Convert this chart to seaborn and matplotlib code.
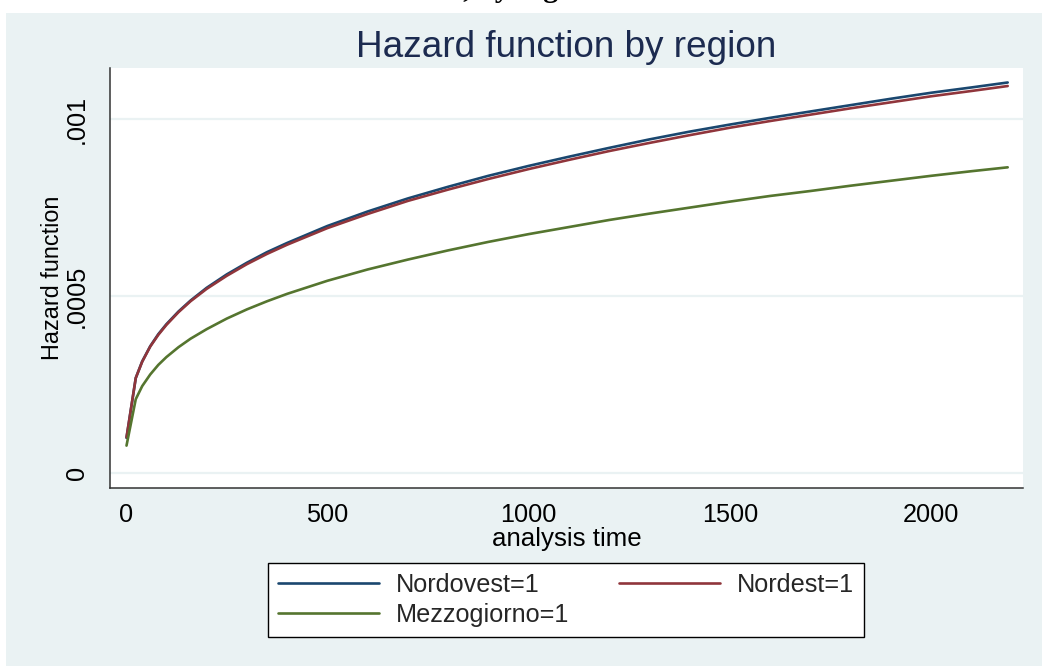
import numpy as np
import pandas as pd
import matplotlib
matplotlib.use("Agg")
import matplotlib.pyplot as plt
from matplotlib.lines import Line2D
from matplotlib.patches import Rectangle
import seaborn as sns

# ---- data ----
time = [1, 24, 40, 60, 80, 100, 130, 160, 200, 250, 300, 350, 400, 500, 600,
        700, 800, 900, 1000, 1100, 1200, 1300, 1400, 1500, 1600, 1700, 1800,
        1900, 2000, 2100, 2190]
nordovest = [0.0000985, 0.000268, 0.000315, 0.000358, 0.000392, 0.000420,
             0.000456, 0.000487, 0.000523, 0.000561, 0.000594, 0.000624,
             0.000650, 0.000698, 0.000739, 0.000776, 0.000809, 0.000840,
             0.000868, 0.000894, 0.000919, 0.000943, 0.000965, 0.000985,
             0.001004, 0.001022, 0.001040, 0.001058, 0.001075, 0.001090,
             0.001104]
nordest = [0.0001, 0.000268, 0.000314, 0.000357, 0.000390, 0.000418,
           0.000454, 0.000485, 0.000520, 0.000557, 0.000590, 0.000619,
           0.000645, 0.000692, 0.000732, 0.000769, 0.000801, 0.000831,
           0.000859, 0.000885, 0.000910, 0.000933, 0.000955, 0.000976,
           0.000995, 0.001013, 0.001031, 0.001048, 0.001065, 0.001080,
           0.001094]
mezzogiorno = [0.0000766, 0.000208, 0.000245, 0.000278, 0.000305, 0.000327,
               0.000355, 0.000379, 0.000406, 0.000436, 0.000462, 0.000485,
               0.000506, 0.000543, 0.000575, 0.000603, 0.000629, 0.000653,
               0.000675, 0.000695, 0.000715, 0.000733, 0.000750, 0.000767,
               0.000783, 0.000797, 0.000812, 0.000826, 0.000840, 0.000853,
               0.000864]
series_names = ["Nordovest=1", "Nordest=1", "Mezzogiorno=1"]
colors = ["#1A476F", "#90353B", "#55752F"]
x_ticks = [0, 500, 1000, 1500, 2000]
y_ticks = [0, 0.0005, 0.001]
y_tick_labels = ["0", ".0005", ".001"]

df = pd.concat([
    pd.DataFrame({"time": time, "hazard": vals, "region": name})
    for name, vals in zip(series_names, [nordovest, nordest, mezzogiorno])
], ignore_index=True)

# ---- style ----
sns.set_theme(style="white")
plt.rcParams["font.family"] = ["Liberation Sans", "DejaVu Sans"]

W, H = 1042, 666
fig = plt.figure(figsize=(W / 100, H / 100), dpi=100, facecolor="white")
bg = "#EAF2F3"
fig.patches.append(Rectangle((6 / W, 0), 1 - 6 / W, 1 - 13 / H,
                             transform=fig.transFigure, facecolor=bg,
                             edgecolor="none", zorder=-10))

L, R, T, B = 110, 1023, 68, 488
ax = fig.add_axes([L / W, 1 - B / H, (R - L) / W, (B - T) / H])
ax.set_facecolor("white")

sns.lineplot(data=df, x="time", y="hazard", hue="region",
             hue_order=series_names, palette=colors, linewidth=1.9,
             estimator=None, sort=False, legend=False, ax=ax)

ax.set_xlim(-40, 2228)
ax.set_ylim(-0.0000433, 0.001145)
ax.set_xticks(x_ticks)
ax.set_xticklabels([str(v) for v in x_ticks])
ax.set_yticks(y_ticks)
ax.set_yticklabels(y_tick_labels)

ax.grid(axis="y", color=bg, linewidth=1.6, zorder=0)
ax.grid(axis="x", visible=False)
ax.set_axisbelow(True)

for s in ["top", "right"]:
    ax.spines[s].set_visible(False)
for s in ["left", "bottom"]:
    ax.spines[s].set_visible(True)
    ax.spines[s].set_color("#333333")
    ax.spines[s].set_linewidth(1.1)

ax.tick_params(axis="both", which="major", direction="out",
               width=1.0, color="#444444", labelsize=18.2, labelcolor="black")
ax.tick_params(axis="x", pad=4, length=6.5)
ax.tick_params(axis="y", pad=7, length=8, labelrotation=90)
for lab in ax.get_yticklabels():
    lab.set_va("center")

ax.set_xlabel("analysis time", fontsize=18.6, color="black")
ax.xaxis.label.set_va("baseline")
ax.xaxis.set_label_coords(0.5, (B - 546) / (B - T))
ax.set_ylabel("Hazard function", fontsize=16.8, color="black")
ax.yaxis.label.set_va("center")
ax.yaxis.set_label_coords((52.5 - L) / (R - L), 0.5)

fig.text((355 + 778) / 2 / W, 1 - 57.3 / H, "Hazard function by region",
         ha="center", va="baseline", fontsize=26.6, color="#1C2B50")

# clipped heading at the very top of the image (only descenders visible)
fig.text(252 / W, 1 + 3 / H, "Hazard function, by region", ha="left",
         va="baseline", fontsize=21.6, fontweight="bold",
         family=["Liberation Serif", "DejaVu Serif"], color="black")

# legend: order so that row 1 = Nordovest, Nordest; row 2 = Mezzogiorno
handles = [Line2D([], [], color=c, linewidth=1.9) for c in colors]
order = [0, 2, 1]
leg = ax.legend([handles[i] for i in order], [series_names[i] for i in order],
                loc="upper left",
                bbox_to_anchor=(268 / W, 1 - 637.3 / H, (864 - 268) / W,
                                (637.3 - 562.7) / H),
                bbox_transform=fig.transFigure, mode="expand", ncol=2,
                frameon=True, fancybox=False, framealpha=1, edgecolor="black",
                facecolor="white", fontsize=18.2, handlelength=4.0,
                handletextpad=0.65, borderpad=0.4, labelspacing=0.24,
                borderaxespad=0)
leg.get_frame().set_linewidth(1.0)

fig.savefig("out.png", dpi=100, facecolor="white")
